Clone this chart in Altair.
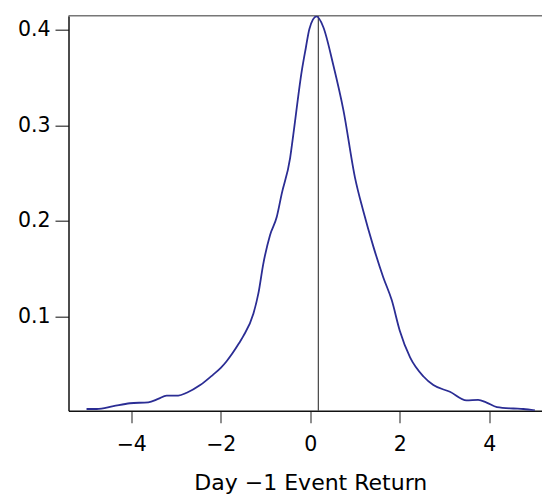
import altair as alt
import pandas as pd

# Density curve
xs = [-5.0, -4.77, -4.40, -4.03, -3.62, -3.40, -3.21, -2.95, -2.76, -2.46,
      -2.17, -2.0, -1.87, -1.59, -1.50, -1.27, -1.16, -1.05, -0.90, -0.75,
      -0.64, -0.45, -0.38, -0.19, -0.10, -0.02, 0.14, 0.29, 0.51, 0.74,
      1.0, 1.18, 1.41, 1.63, 1.82, 2.0, 2.23, 2.53, 2.75, 3.12,
      3.49, 3.75, 3.94, 4.17, 4.54, 4.76, 5.02]
ys = [0.003, 0.003, 0.006, 0.009, 0.010, 0.0135, 0.017, 0.017, 0.020, 0.028,
      0.039, 0.046, 0.053, 0.072, 0.079, 0.103, 0.124, 0.155, 0.185, 0.204,
      0.228, 0.266, 0.290, 0.357, 0.381, 0.401, 0.414, 0.403, 0.364, 0.316,
      0.245, 0.211, 0.173, 0.141, 0.117, 0.085, 0.057, 0.037, 0.028, 0.021,
      0.012, 0.0125, 0.0097, 0.005, 0.0035, 0.003, 0.0015]
x_ticks = [-4, -2, 0, 2, 4]
y_ticks = [0.1, 0.2, 0.3, 0.4]
event_mean = [0.18]
x_title = "Day \u22121 Event Return"

df = pd.DataFrame({"x": xs, "y": ys})
vdf = pd.DataFrame({"m": event_mean})

FONT = "DejaVu Sans"
# plot area 473.5 px wide at 44.75 px per unit, 0 at 241.8 px from the left
xscale = alt.Scale(domain=[-5.403, 5.178], nice=False, zero=False)
yscale = alt.Scale(domain=[0.0012, 0.4148], nice=False, zero=False)

curve = alt.Chart(df).mark_line(color="#2b2d94", strokeWidth=1.8,
                                interpolate="monotone", clip=True).encode(
    x=alt.X("x:Q", scale=xscale,
            axis=alt.Axis(values=x_ticks, title=x_title, grid=False,
                          tickSize=12, tickColor="#444", tickWidth=1.2,
                          domainColor="#111", domainWidth=1.5,
                          labelFontSize=20.5, labelFont=FONT, labelColor="#000",
                          labelBaseline="alphabetic",
                          labelPadding=27.3, labelFlush=False,
                          titleFontSize=22, titleFont=FONT, titleFontWeight="normal",
                          titleColor="#000", titleX=241.8, titleY=78.3,
                          titleBaseline="alphabetic")),
    y=alt.Y("y:Q", scale=yscale,
            axis=alt.Axis(values=y_ticks, title=None, grid=False, format=".1f",
                          tickSize=13.5, tickColor="#333", tickWidth=1.2,
                          domainColor="#111", domainWidth=1.5,
                          labelFontSize=20.5, labelFont=FONT, labelColor="#000",
                          labelPadding=5, labelFlush=False)),
)

vline = alt.Chart(vdf).mark_rule(color="#444", strokeWidth=1.2).encode(
    x=alt.X("m:Q", scale=xscale)
)

topline = alt.Chart(vdf).mark_rule(color="#777", strokeWidth=1.5).encode(
    y=alt.value(0), x=alt.value(0), x2=alt.value(473.5)
)

chart = alt.layer(vline, topline, curve).properties(
    width=473.5, height=395,
    autosize=alt.AutoSizeParams(type="none"),
    padding={"left": 60.5, "top": 7.7, "right": 0, "bottom": 84.3},
).configure_view(stroke=None)

chart.save("out.html", embed_options={"renderer": "svg", "actions": False})
